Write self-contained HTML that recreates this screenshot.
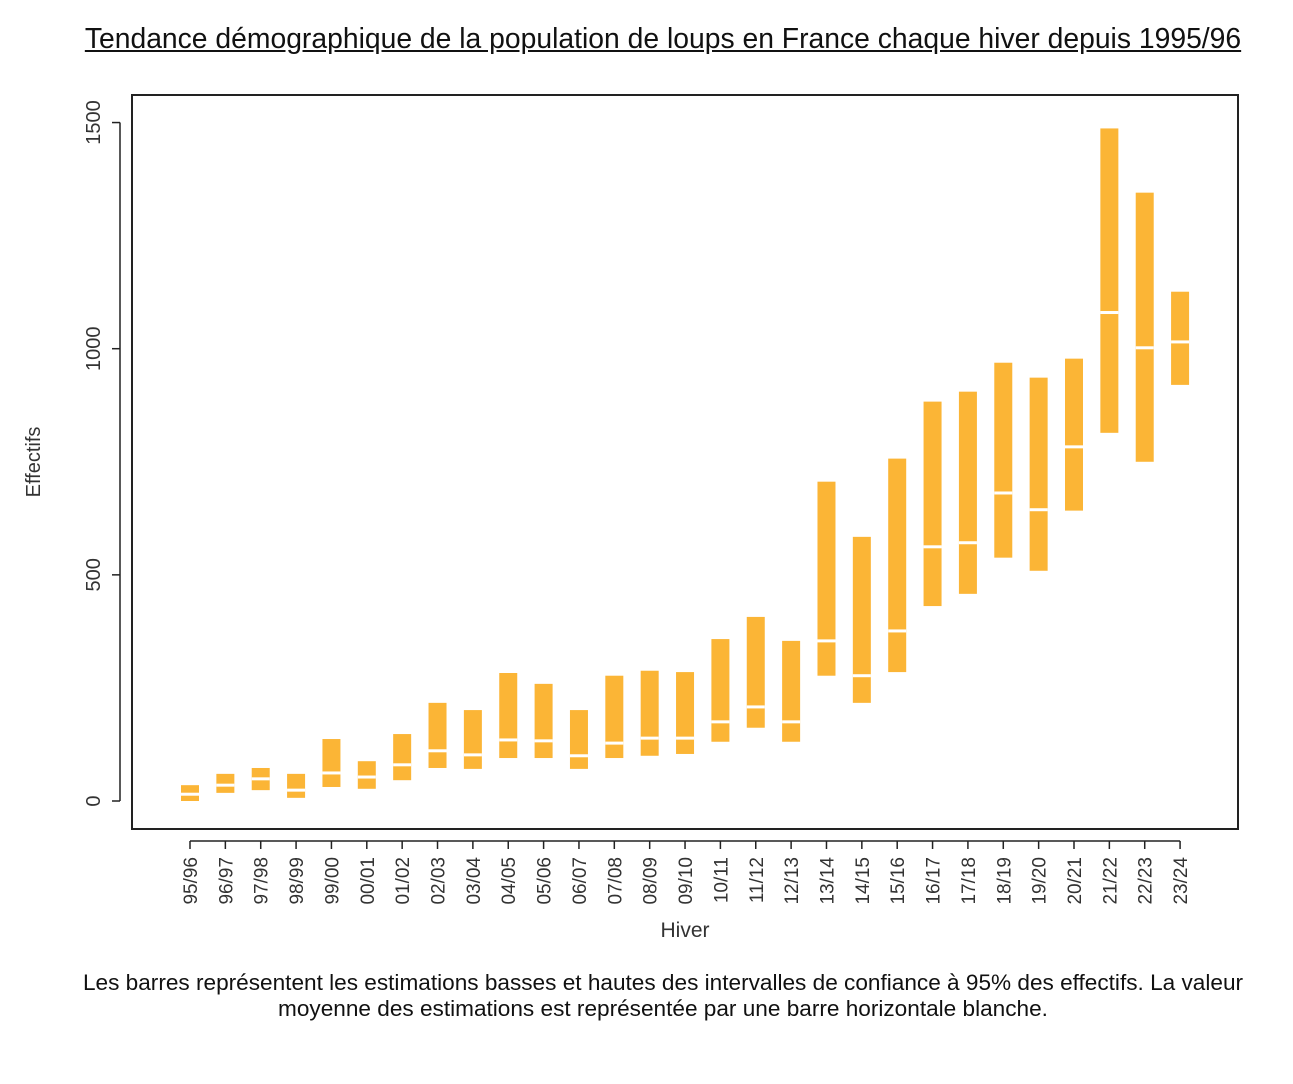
<!DOCTYPE html>
<html><head><meta charset="utf-8">
<style>
body{margin:0;background:#fff;width:1293px;height:1084px;overflow:hidden;font-family:"Liberation Sans",sans-serif;}
#title{position:absolute;left:0;width:1326px;top:22px;text-align:center;font-size:28.3px;text-decoration:underline;color:#111;white-space:nowrap;}
#caption{position:absolute;left:0;width:1326px;top:970px;text-align:center;font-size:22.6px;line-height:26px;color:#111;white-space:nowrap;}
svg{position:absolute;left:0;top:0;}
</style></head><body>
<div id="title">Tendance démographique de la population de loups en France chaque hiver depuis 1995/96</div>
<svg id="chart" width="1293" height="1084"></svg>
<div id="caption">Les barres représentent les estimations basses et hautes des intervalles de confiance à 95% des effectifs. La valeur<br>moyenne des estimations est représentée par une barre horizontale blanche.</div>
<script>
const categories=["95/96","96/97","97/98","98/99","99/00","00/01","01/02","02/03","03/04","04/05","05/06","06/07","07/08","08/09","09/10","10/11","11/12","12/13","13/14","14/15","15/16","16/17","17/18","18/19","19/20","20/21","21/22","22/23","23/24"];
const lowValues=[0,18,24,7,31,27,46,73,71,95,95,71,95,100,104,131,162,131,277,217,285,431,458,538,509,642,814,750,920];
const meanValues=[15,35,49,24,62,53,80,111,102,135,133,100,128,139,139,175,208,175,354,277,376,562,571,681,644,783,1080,1002,1015];
const highValues=[35,60,73,60,137,88,148,217,201,283,259,201,277,288,285,358,407,354,706,584,757,883,905,969,936,978,1487,1345,1126];
const yTicks=[0,500,1000,1500];
const NS="http://www.w3.org/2000/svg";
const svg=document.getElementById('chart');
const y=v=>801-v*0.4523;
const x=i=>190+i*35.36;
function mk(t,a,p){const e=document.createElementNS(NS,t);for(const k in a)e.setAttribute(k,a[k]);(p||svg).appendChild(e);return e;}
const frame=mk('rect',{x:132,y:95,width:1106,height:734,fill:'none',stroke:'#222','stroke-width':2});


const ya=mk('line',{x1:120,x2:120,y1:y(0),y2:y(1500),stroke:'#222','stroke-width':1.5});


yTicks.forEach(t=>{
 mk('line',{x1:112,x2:120,y1:y(t),y2:y(t),stroke:'#222','stroke-width':1.5});
 const tx=mk('text',{x:0,y:0,transform:`translate(100,${y(t)}) rotate(-90)`,'text-anchor':'middle','font-size':20,fill:'#333'});
 tx.textContent=t;
 
 
});
const xa=mk('line',{x1:x(0),x2:x(categories.length-1),y1:841,y2:841,stroke:'#222','stroke-width':1.5});


categories.forEach((c,i)=>{
 mk('line',{x1:x(i),x2:x(i),y1:841,y2:849,stroke:'#222','stroke-width':1.5});
 const tx=mk('text',{x:0,y:0,transform:`translate(${x(i)+7},857) rotate(-90)`,'text-anchor':'end','font-size':19,fill:'#333'});
 tx.textContent=c;
 
 
 const b=mk('rect',{x:x(i)-9,y:y(highValues[i]),width:18,height:y(lowValues[i])-y(highValues[i]),fill:'#fbb536'});
 
 
 const m=mk('rect',{x:x(i)-9,y:y(meanValues[i])-1.5,width:18,height:3,fill:'#fff'});
 
 
});
const yt=mk('text',{x:0,y:0,transform:'translate(40,462) rotate(-90)','text-anchor':'middle','font-size':20,fill:'#333'});
yt.textContent='Effectifs';


const xt=mk('text',{x:685,y:937,'text-anchor':'middle','font-size':21,fill:'#333'});
xt.textContent='Hiver';


</script>
</body></html>
